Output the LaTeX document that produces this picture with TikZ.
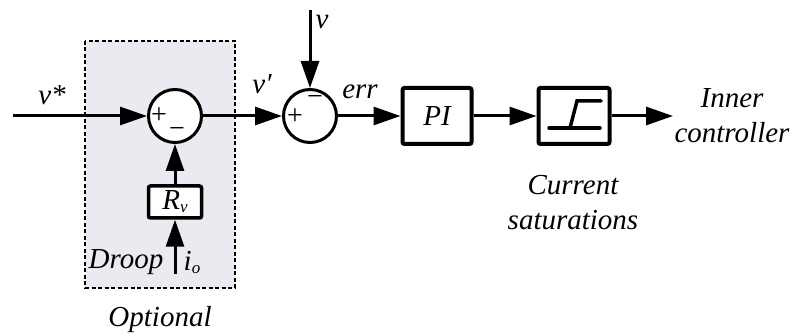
\documentclass[tikz,border=0pt]{standalone}
\usepackage{fontspec}
\setmainfont{Liberation Serif}
\newfontfamily\timesItalic{Liberation Serif Italic}
\usetikzlibrary{positioning, arrows.meta}
\tikzstyle{diagram} = [x = 1pt, y = -1pt]
\definecolor{optionalFill}{RGB}{236,233,241}
\tikzstyle{optionalStyle} = [fill=optionalFill, line width=2.5pt, dash pattern=on 4pt off 2.5pt]
\tikzstyle{blockStyle} = [draw, fill=white, line width=4pt, rounded corners=2pt, minimum width=69pt, minimum height=56pt, inner sep=0pt, font=\fontsize{29}{34}\selectfont\timesItalic]
\tikzstyle{sumStyle} = [draw, fill=white, circle, line width=3pt, minimum size=53pt, inner sep=0pt]
\tikzstyle{signal} = [line width=3pt, -{Triangle[length=27pt, width=18pt]}]
\tikzstyle{labelText} = [font=\fontsize{29}{35}\selectfont\timesItalic, align=center, inner sep=0pt]
\tikzstyle{signText} = [font=\fontsize{28}{28}\selectfont, inner sep=0pt, outer sep=0pt]
\newcommand{\sub}[1]{\raisebox{-3pt}{\fontsize{17}{17}\selectfont #1}}

\begin{document}
\begin{tikzpicture}[diagram]
        \useasboundingbox (0,0) rectangle (793,336);

        % droop part
        \filldraw [optionalStyle] (85,41) rectangle (235,288);
        \node [labelText] (optional) at (160,320) {Optional};

        \coordinate (vRef) at (13,116);
        \coordinate (vTop) at (310,10);
        \coordinate (ioFoot) at (175,274);
        \coordinate (out) at (673,116);

        \node [sumStyle] (sumDroop) at (175,116) {};
        \node [sumStyle] (sumV) at (310,116) {};
        \node [blockStyle] (pi) at (437,116) {PI};
        \node [blockStyle, minimum width=71pt] (sat) at (574,116) {};
        \node [blockStyle, line width=3.5pt, minimum width=53pt, minimum height=32pt] (rv) at (175,202) {R\sub{v}};

        % signs
        \node [signText] (plusDroop) at (159,116) {+};
        \node [signText] (minusDroop) at (177,133) {−};
        \node [signText] (plusV) at (295,117) {+};
        \node [signText] (minusV) at (315,101) {−};

        % saturation curve
        \draw [line width=3.5pt, line cap=round] (549,128) -- (600,128);
        \draw [line width=3.5pt, line cap=round] (570,128) -- (577,101) -- (601,101);

        \draw [signal] (vRef) -- (sumDroop);
        \draw [signal] (sumDroop) -- (sumV);
        \draw [signal] (vTop) -- (sumV);
        \draw [signal] (sumV) -- (pi);
        \draw [signal] (pi) -- (sat);
        \draw [signal] (sat) -- (out);
        \draw [signal] (rv) -- (sumDroop);
        \draw [signal] (ioFoot) -- (rv);

        % labels
        \node [labelText] (vStar) at (52,95) {v*};
        \node [labelText] (vPrime) at (262,84) {v′};
        \node [labelText] (vMeas) at (322,22) {v};
        \node [labelText] (err) at (360,92) {err};
        \node [labelText] (droop) at (126,262) {Droop};
        \node [labelText] (io) at (192,262) {i\sub{o}};
        \node [labelText] (inner) at (732,116) {Inner\\controller};
        \node [labelText] (current) at (573,203) {Current\\saturations};
      \end{tikzpicture}
\end{document}
